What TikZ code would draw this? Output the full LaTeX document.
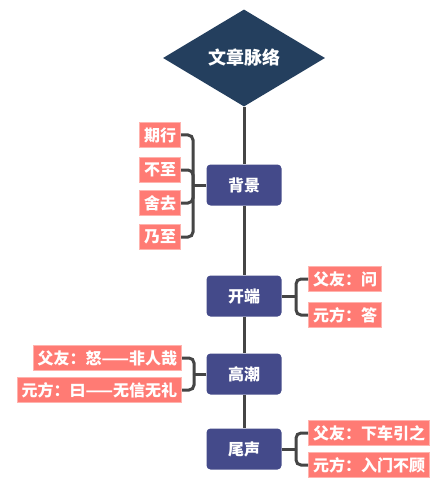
\documentclass[tikz,border=0pt]{standalone}
\usepackage{fontspec}
\newfontfamily\cjk{Noto Sans CJK SC}
\usetikzlibrary{shapes.geometric}

\definecolor{titlecolor}{HTML}{243F5E}
\definecolor{partcolor}{HTML}{444A8A}
\definecolor{leafcolor}{HTML}{FF7B74}
\definecolor{leafborder}{HTML}{FFB3AE}
\definecolor{linkcolor}{HTML}{454545}

\begin{document}
\begin{tikzpicture}[
		x=1pt, y=-1pt,
		titlenode/.style={
		% The shape:
		diamond,
		aspect=1.67,
		% The size:
		minimum width=162pt,
		minimum height=97pt,
		inner sep=0pt,
		% The filling:
		fill=titlecolor,
		% Font
		text=white,
		font=\cjk\bfseries\fontsize{18pt}{20pt}\selectfont
		},
		partnode/.style={
		% The shape:
		rectangle,
		rounded corners=4pt,
		% The size:
		minimum width=75pt,
		minimum height=41pt,
		% The filling:
		fill=partcolor,
		% Font
		text=white,
		font=\cjk\bfseries\fontsize{16pt}{18pt}\selectfont
		},
		leafnode/.style={
		% The shape:
		rectangle,
		% The size:
		minimum height=25pt,
		inner xsep=4.5pt,
		inner ysep=0pt,
		% The border:
		draw=leafborder,
		line width=1pt,
		% The filling:
		fill=leafcolor,
		% Font
		text=white,
		font=\cjk\bfseries\fontsize{16pt}{18pt}\selectfont
		},
		link/.style={
		draw=linkcolor,
		line width=3pt,
		rounded corners=5pt
		}
	]
	\fill[white] (0,0) rectangle (440,489);
	\useasboundingbox (0,0) rectangle (440,489);

	\node (T)[titlenode] at (244,58) {文章脉络};

	\node (BG)[partnode] at (244,185) {背景};
	\node (KD)[partnode] at (244,296) {开端};
	\node (GC)[partnode] at (244,374) {高潮};
	\node (WS)[partnode] at (244,449) {尾声};

	% leaves of 背景
	\node (BG1)[leafnode, anchor=east] at (181,135) {期行};
	\node (BG2)[leafnode, anchor=east] at (181,170) {不至};
	\node (BG3)[leafnode, anchor=east] at (181,203) {舍去};
	\node (BG4)[leafnode, anchor=east] at (181,237) {乃至};

	% leaves of 开端
	\node (KD1)[leafnode, anchor=west] at (308,279) {父友：问};
	\node (KD2)[leafnode, anchor=west] at (308,315) {元方：答};

	% leaves of 高潮
	\node (GC1)[leafnode, anchor=east] at (182,358) {父友：怒——非人哉};
	\node (GC2)[leafnode, anchor=east] at (182,390) {元方：曰——无信无礼};

	% leaves of 尾声
	\node (WS1)[leafnode, anchor=west] at (308,433) {父友：下车引之};
	\node (WS2)[leafnode, anchor=west] at (308,465) {元方：入门不顾};

	\coordinate (JBG) at (193,185);
	\coordinate (JKD) at (296,296);
	\coordinate (JGC) at (194,374);
	\coordinate (JWS) at (296,449);

	% main line
	\draw[link] (T.south) -- (BG);
	\draw[link] (BG) -- (KD);
	\draw[link] (KD) -- (GC);
	\draw[link] (GC) -- (WS);

	% brackets
	\draw[link] (BG.west) -- (JBG);
	\draw[link] (BG1.east) -| (JBG);
	\draw[link] (BG2.east) -| (JBG);
	\draw[link] (BG3.east) -| (JBG);
	\draw[link] (BG4.east) -| (JBG);

	\draw[link] (KD.east) -- (JKD);
	\draw[link] (KD1.west) -| (JKD);
	\draw[link] (KD2.west) -| (JKD);

	\draw[link] (GC.west) -- (JGC);
	\draw[link] (GC1.east) -| (JGC);
	\draw[link] (GC2.east) -| (JGC);

	\draw[link] (WS.east) -- (JWS);
	\draw[link] (WS1.west) -| (JWS);
	\draw[link] (WS2.west) -| (JWS);
\end{tikzpicture}
\end{document}
